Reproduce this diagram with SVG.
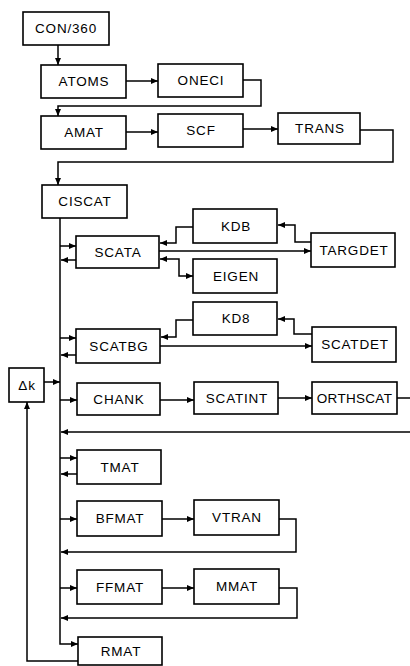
<svg xmlns="http://www.w3.org/2000/svg" width="410" height="666" viewBox="0 0 410 666">
<defs>
<marker id="ah" viewBox="0 0 7 6" refX="7" refY="3" markerWidth="7" markerHeight="6" markerUnits="userSpaceOnUse" orient="auto-start-reverse">
<path d="M0,0 L7,3 L0,6 z" fill="#000"/>
</marker>
</defs>
<style>
rect{fill:#fff;stroke:#000;stroke-width:1.6}
text{font-family:"Liberation Sans",Arial,sans-serif;font-size:13.5px;letter-spacing:0.8px;text-anchor:middle;fill:#000}
#connectors path{fill:none;stroke:#000;stroke-width:1.5}
.a{marker-end:url(#ah)}
.b{marker-start:url(#ah);marker-end:url(#ah)}
</style>
<rect x="0" y="0" width="410" height="666" style="stroke:none;fill:#fff"/>
<g id="connectors">
<path class="a" d="M58,45 V65"/>
<path class="a" d="M126,81 H158"/>
<path class="a" d="M243,80 H261 V106 H58 V116"/>
<path class="a" d="M126,132 H158"/>
<path class="a" d="M243,129 H278"/>
<path class="a" d="M360,130 H393 V162 H58 V185"/>
<path class="a" d="M60,218 V644 H78"/>
<path class="a" d="M60,246 H76"/>
<path class="a" d="M76,260 H61"/>
<path class="a" d="M193,227 H176 V243 H160"/>
<path class="a" d="M159,251 H311"/>
<path class="a" d="M311,242 H295 V225 H278"/>
<path class="b" d="M160,259 H179 V276 H193"/>
<path class="a" d="M60,338 H76"/>
<path class="a" d="M76,355 H61"/>
<path class="a" d="M193,320 H176 V337 H161"/>
<path class="a" d="M160,346 H312"/>
<path class="a" d="M312,334 H294 V319 H278"/>
<path class="a" d="M44,382 H60"/>
<path class="a" d="M60,400 H77"/>
<path class="a" d="M160,400 H194"/>
<path class="a" d="M278,398 H312"/>
<path d="M397,398 H410"/>
<path class="a" d="M410,432 H61"/>
<path class="a" d="M60,458 H77"/>
<path class="a" d="M77,474 H61"/>
<path class="a" d="M60,519 H77"/>
<path class="a" d="M162,519 H194"/>
<path class="a" d="M279,519 H296 V552 H61"/>
<path class="a" d="M60,588 H77"/>
<path class="a" d="M162,588 H194"/>
<path class="a" d="M279,588 H297 V618 H61"/>
<path class="a" d="M78,661 H27 V402"/>
</g>
<g id="con360"><rect x="23" y="12" width="86" height="33"/><text x="66" y="33">CON/360</text></g>
<g id="atoms"><rect x="41" y="65" width="85" height="33"/><text x="84" y="86">ATOMS</text></g>
<g id="oneci"><rect x="158" y="64" width="85" height="33"/><text x="201" y="85">ONECI</text></g>
<g id="amat"><rect x="41" y="116" width="85" height="33"/><text x="84" y="137">AMAT</text></g>
<g id="scf"><rect x="158" y="114" width="85" height="33"/><text x="201" y="135">SCF</text></g>
<g id="trans"><rect x="278" y="113" width="82" height="31"/><text x="320" y="133">TRANS</text></g>
<g id="ciscat"><rect x="42" y="185" width="85" height="33"/><text x="85" y="206">CISCAT</text></g>
<g id="scata"><rect x="76" y="236" width="83" height="32"/><text x="118" y="257">SCATA</text></g>
<g id="kdb1"><rect x="193" y="209" width="84" height="34"/><text x="236" y="231">KDB</text></g>
<g id="targdet"><rect x="311" y="233" width="84" height="34"/><text x="354" y="255">TARGDET</text></g>
<g id="eigen"><rect x="193" y="259" width="84" height="34"/><text x="236" y="281">EIGEN</text></g>
<g id="kdb2"><rect x="193" y="302" width="84" height="33"/><text x="236" y="323">KD8</text></g>
<g id="scatdet"><rect x="312" y="327" width="84" height="35"/><text x="355" y="349">SCATDET</text></g>
<g id="scatbg"><rect x="76" y="329" width="84" height="34"/><text x="119" y="351">SCATBG</text></g>
<g id="dk"><rect x="9" y="368" width="35" height="34"/><text x="27" y="390">Δk</text></g>
<g id="chank"><rect x="77" y="383" width="83" height="32"/><text x="119" y="404">CHANK</text></g>
<g id="scatint"><rect x="194" y="382" width="84" height="32"/><text x="237" y="403">SCATINT</text></g>
<g id="orthscat"><rect x="312" y="382" width="85" height="32"/><text x="354.5" y="403" style="letter-spacing:0.3px">ORTHSCAT</text></g>
<g id="tmat"><rect x="77" y="450" width="84" height="34"/><text x="120" y="472">TMAT</text></g>
<g id="bfmat"><rect x="77" y="501" width="85" height="35"/><text x="120" y="523">BFMAT</text></g>
<g id="vtran"><rect x="194" y="500" width="85" height="35"/><text x="237" y="522">VTRAN</text></g>
<g id="ffmat"><rect x="77" y="570" width="85" height="34"/><text x="120" y="592">FFMAT</text></g>
<g id="mmat"><rect x="194" y="569" width="85" height="35"/><text x="237" y="591">MMAT</text></g>
<g id="rmat"><rect x="78" y="637" width="84" height="28"/><text x="121" y="656">RMAT</text></g>
</svg>
